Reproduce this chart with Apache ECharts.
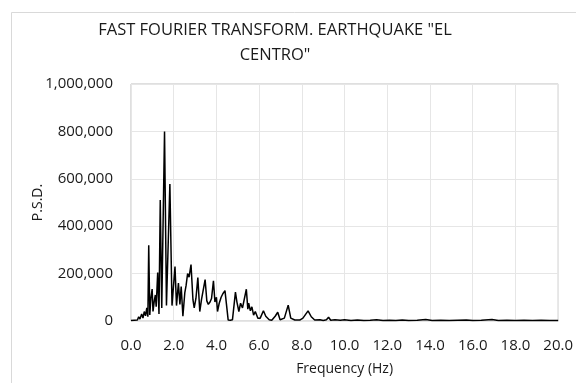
<!DOCTYPE html>
<html>
<head>
<meta charset="utf-8">
<script src="https://cdn.jsdelivr.net/npm/echarts@6/dist/echarts.min.js"></script>
<style>
  html, body { margin: 0; padding: 0; background: #ffffff; }
  #chart { width: 576px; height: 383px; }
</style>
</head>
<body>
<div id="chart"></div>
<script>
// Power spectral density of the El Centro record (frequency in Hz)
const freqHz = [
  0.00, 0.08, 0.15, 0.22, 0.30, 0.36, 0.42, 0.50, 0.56, 0.62,
  0.68, 0.74, 0.79, 0.83, 0.88, 0.93, 0.99, 1.03, 1.09, 1.14,
  1.18, 1.25, 1.31, 1.37, 1.44, 1.57, 1.66, 1.70, 1.82, 1.92,
  1.97, 2.06, 2.13, 2.22, 2.29, 2.35, 2.43, 2.52, 2.58, 2.65,
  2.72, 2.81, 2.90, 2.96, 3.04, 3.13, 3.22, 3.30, 3.40, 3.47,
  3.55, 3.62, 3.70, 3.77, 3.86, 3.93, 4.00, 4.05, 4.13, 4.22,
  4.30, 4.40, 4.47, 4.55, 4.65, 4.75, 4.89, 4.96, 5.05, 5.13,
  5.22, 5.40, 5.47, 5.51, 5.59, 5.66, 5.74, 5.82, 5.94, 6.05,
  6.20, 6.31, 6.39, 6.47, 6.59, 6.75, 6.87, 6.98, 7.18, 7.36,
  7.48, 7.67, 7.90, 8.05, 8.29, 8.44, 8.60, 8.85, 9.00, 9.15,
  9.25, 9.35, 9.55, 9.80, 10.0, 10.3, 10.6, 10.9, 11.2, 11.5,
  11.8, 12.1, 12.4, 12.7, 13.0, 13.4, 13.8, 14.1, 14.5, 14.9,
  15.3, 15.7, 16.0, 16.4, 16.9, 17.2, 17.6, 18.0, 18.4, 18.8,
  19.2, 19.6, 20.0
];
const psd = [
  2000, 6000, 3000, 9000, 4000, 18000, 8000, 30000, 12000, 40000,
  22000, 55000, 18000, 320000, 25000, 95000, 135000, 40000, 85000, 110000,
  60000, 205000, 30000, 510000, 55000, 800000, 65000, 60000, 578000, 65000,
  60000, 230000, 65000, 160000, 70000, 145000, 20000, 120000, 150000, 200000,
  185000, 238000, 90000, 55000, 95000, 183000, 40000, 90000, 140000, 175000,
  85000, 70000, 80000, 95000, 170000, 80000, 100000, 40000, 75000, 100000,
  115000, 128000, 70000, 4000, 3000, 5000, 122000, 80000, 40000, 75000,
  55000, 134000, 50000, 75000, 43000, 60000, 25000, 40000, 12000, 12000,
  43000, 20000, 25000, 5000, 3000, 20000, 37000, 5000, 12000, 67000,
  12000, 4000, 4000, 12000, 43000, 18000, 4000, 5000, 2000, 5000,
  16000, 3000, 5000, 3000, 5000, 2000, 4000, 2000, 3000, 5000,
  2000, 3000, 2000, 4000, 2000, 3000, 6000, 2000, 3000, 2000,
  3000, 4000, 2000, 3000, 6000, 2000, 3000, 2000, 3000, 2000,
  3000, 2000, 2000
];
const yTicks = [0, 200000, 400000, 600000, 800000, 1000000];
const xTicks = [0, 2, 4, 6, 8, 10, 12, 14, 16, 18, 20];

const chart = echarts.init(document.getElementById('chart'), null, { renderer: 'canvas' });
const FONT = 'Open Sans';
const TEXT = '#1a1a1a';
const seriesData = freqHz.map((f, i) => [f, psd[i]]);

chart.setOption({
  animation: false,
  backgroundColor: '#ffffff',
  textStyle: { fontFamily: FONT },
  graphic: [{
    type: 'rect',
    shape: { x: 11.5, y: 12.5, width: 600, height: 400 },
    style: { fill: 'none', stroke: '#d9d9d9', lineWidth: 1 },
    silent: true,
    z: -1
  }],
  title: {
    text: 'FAST FOURIER TRANSFORM. EARTHQUAKE "EL\nCENTRO"',
    left: 270,
    top: 13,
    textAlign: 'center',
    textStyle: {
      fontFamily: FONT,
      fontSize: 16.5,
      fontWeight: 'normal',
      color: TEXT,
      lineHeight: 25
    }
  },
  grid: {
    left: 131,
    right: 13,
    top: 84,
    bottom: 62,
    show: true,
    borderColor: '#bfbfbf',
    borderWidth: 1,
    containLabel: false
  },
  xAxis: {
    type: 'value',
    min: xTicks[0],
    max: xTicks[xTicks.length - 1],
    interval: xTicks[1] - xTicks[0],
    name: 'Frequency (Hz)',
    nameLocation: 'middle',
    nameGap: 41,
    nameTextStyle: { fontFamily: FONT, fontSize: 14, color: TEXT },
    axisLine: { show: false },
    axisTick: { show: false },
    axisLabel: {
      fontFamily: FONT,
      fontSize: 15,
      color: TEXT,
      margin: 17,
      formatter: v => v.toFixed(1)
    },
    splitLine: { show: true, lineStyle: { color: '#e6e6e6', width: 1 } }
  },
  yAxis: {
    type: 'value',
    min: yTicks[0],
    max: yTicks[yTicks.length - 1],
    interval: yTicks[1] - yTicks[0],
    name: 'P.S.D.',
    nameLocation: 'middle',
    nameGap: 86,
    nameMoveOverlap: false,
    nameRotate: 90,
    nameTextStyle: { fontFamily: FONT, fontSize: 14, color: TEXT },
    axisLine: { show: false },
    axisTick: { show: false },
    axisLabel: {
      fontFamily: FONT,
      fontSize: 15,
      color: TEXT,
      margin: 18,
      formatter: v => v.toLocaleString('en-US')
    },
    splitLine: { show: true, lineStyle: { color: '#e6e6e6', width: 1 } }
  },
  series: [{
    type: 'line',
    data: seriesData,
    showSymbol: false,
    lineStyle: { color: '#000000', width: 1.5 },
    z: 3
  }]
});
</script>
</body>
</html>
